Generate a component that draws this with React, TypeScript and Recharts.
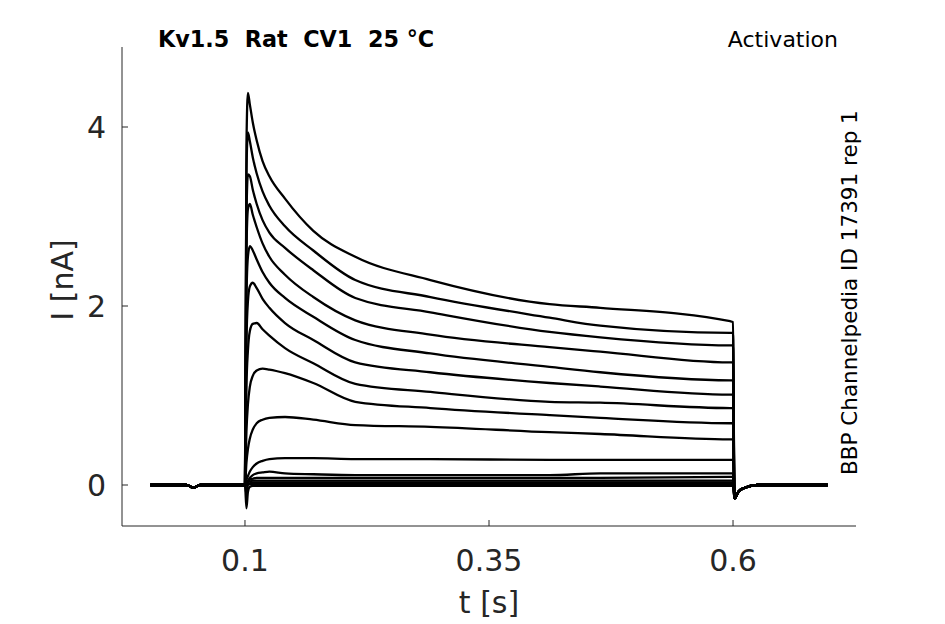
import React from "react";
import { LineChart, Line, XAxis, YAxis, Customized } from "recharts";

// time points (s)
const times = [
  0.003, 0.04, 0.047, 0.054, 0.099, 0.1, 0.1015, 0.103, 0.105, 0.108, 0.112, 0.118, 0.125,
  0.141, 0.17, 0.213, 0.29, 0.412, 0.464, 0.597, 0.6, 0.6015, 0.606, 0.612, 0.625, 0.697,
];

const pre = [0, 0, -0.03, 0, 0, 0];
const post = [-0.15, -0.07, -0.03, 0, 0];

// current traces (nA), one per voltage step, values read at the time points above
const trace1 = [...pre, 3.8, 4.38, 4.25, 4.05, 3.85, 3.62, 3.45, 3.2, 2.84, 2.55, 2.29, 2.02, 1.98, 1.83, 1.82, ...post];
const trace2 = [...pre, 3.5, 3.94, 3.84, 3.66, 3.48, 3.28, 3.12, 2.89, 2.62, 2.29, 2.1, 1.87, 1.78, 1.7, 1.7, ...post];
const trace3 = [...pre, 3.0, 3.47, 3.45, 3.3, 3.14, 2.96, 2.82, 2.65, 2.4, 2.09, 1.93, 1.71, 1.65, 1.56, 1.56, ...post];
const trace4 = [...pre, 2.6, 3.08, 3.14, 3.02, 2.88, 2.7, 2.55, 2.35, 2.1, 1.84, 1.68, 1.54, 1.49, 1.37, 1.37, ...post];
const trace5 = [...pre, 2.1, 2.55, 2.67, 2.62, 2.52, 2.38, 2.26, 2.09, 1.88, 1.62, 1.47, 1.32, 1.26, 1.17, 1.17, ...post];
const trace6 = [...pre, 1.6, 2.05, 2.22, 2.26, 2.2, 2.08, 1.98, 1.81, 1.62, 1.37, 1.26, 1.14, 1.1, 1.01, 1.01, ...post];
const trace7 = [...pre, 1.1, 1.5, 1.72, 1.8, 1.81, 1.74, 1.67, 1.53, 1.36, 1.13, 1.04, 0.93, 0.92, 0.86, 0.86, ...post];
const trace8 = [...pre, 0.6, 0.9, 1.1, 1.22, 1.28, 1.3, 1.29, 1.25, 1.14, 0.93, 0.86, 0.78, 0.75, 0.69, 0.69, ...post];
const trace9 = [...pre, 0.25, 0.4, 0.52, 0.62, 0.69, 0.73, 0.75, 0.76, 0.73, 0.67, 0.65, 0.59, 0.57, 0.51, 0.51, ...post];
const trace10 = [...pre, 0.06, 0.1, 0.15, 0.2, 0.24, 0.27, 0.29, 0.3, 0.3, 0.29, 0.29, 0.28, 0.28, 0.28, 0.28, ...post];
const trace11 = [...pre, 0.03, 0.05, 0.08, 0.11, 0.13, 0.14, 0.15, 0.13, 0.12, 0.11, 0.11, 0.11, 0.13, 0.13, 0.13, ...post];
const trace12 = [...pre, 0.02, 0.04, 0.06, 0.07, 0.08, 0.08, 0.08, 0.08, 0.08, 0.08, 0.08, 0.08, 0.08, 0.09, 0.09, ...post];
const trace13 = [...pre, 0.01, 0.03, 0.04, 0.05, 0.05, 0.05, 0.05, 0.05, 0.05, 0.05, 0.05, 0.05, 0.05, 0.05, 0.05, ...post];
const trace14 = [...pre, 0.0, 0.01, 0.02, 0.03, 0.03, 0.03, 0.03, 0.03, 0.03, 0.03, 0.03, 0.03, 0.03, 0.03, 0.03, ...post];
const trace15 = [...pre, -0.1, 0.0, 0.01, 0.01, 0.01, 0.01, 0.01, 0.01, 0.01, 0.01, 0.01, 0.01, 0.01, 0.01, 0.01, ...post];
const trace16 = [...pre, -0.26, -0.08, -0.02, -0.01, -0.01, -0.01, -0.01, -0.01, -0.01, -0.01, -0.01, -0.01, -0.01, -0.01, -0.01, ...post];

const traces = [
  trace1, trace2, trace3, trace4, trace5, trace6, trace7, trace8,
  trace9, trace10, trace11, trace12, trace13, trace14, trace15, trace16,
];

const xTicks = [0.1, 0.35, 0.6];
const yTicks = [0, 2, 4];
const xTickLabels = ["0.1", "0.35", "0.6"];

const data = times.map((t, i) => {
  const row: Record<string, number> = { t };
  traces.forEach((tr, k) => {
    row["s" + k] = tr[i];
  });
  return row;
});

const FONT = "DejaVu Sans";
const GRAY = "#262626";

const XTick = (props: any) => {
  const { x, y, payload } = props;
  const idx = xTicks.indexOf(payload.value);
  const label = idx >= 0 ? xTickLabels[idx] : String(payload.value);
  return (
    <g>
      <line x1={x} x2={x} y1={y} y2={y - 6} stroke={GRAY} strokeWidth={1} />
      <text x={x} y={y + 45} textAnchor="middle" fontFamily={FONT} fontSize={30} fill={GRAY}>
        {label}
      </text>
    </g>
  );
};

const YTick = (props: any) => {
  const { x, y, payload } = props;
  return (
    <g>
      <line x1={x} x2={x + 6} y1={y} y2={y} stroke={GRAY} strokeWidth={1} />
      <text x={x - 16} y={y + 11} textAnchor="end" fontFamily={FONT} fontSize={30} fill={GRAY}>
        {String(payload.value)}
      </text>
    </g>
  );
};

const Annotations = () => (
  <g>
    <text x={158} y={47} fontFamily={FONT} fontWeight="bold" fontSize={22.3} fill="#000" style={{ whiteSpace: "pre" }}>
      {"Kv1.5  Rat  CV1  25 °C"}
    </text>
    <text x={838} y={47} textAnchor="end" fontFamily={FONT} fontSize={22} fill="#000">
      Activation
    </text>
    <text
      x={857}
      y={475}
      transform="rotate(-90 857 475)"
      fontFamily={FONT}
      fontSize={21.5}
      fill="#000"
    >
      BBP Channelpedia ID 17391 rep 1
    </text>
    <text x={489} y={613} textAnchor="middle" fontFamily={FONT} fontSize={30} fill={GRAY}>
      t [s]
    </text>
    <text
      x={73}
      y={280}
      transform="rotate(-90 73 280)"
      textAnchor="middle"
      fontFamily={FONT}
      fontSize={30}
      fill={GRAY}
    >
      I [nA]
    </text>
  </g>
);

export default function App() {
  return (
    <div style={{ position: "absolute", left: 0, top: 0, background: "#fff" }}>
      <LineChart width={945} height={624} data={data} margin={{ top: 47, right: 89, bottom: 0, left: 0 }}>
        <XAxis
          type="number"
          dataKey="t"
          domain={[-0.026, 0.726]}
          ticks={xTicks}
          allowDataOverflow
          height={98}
          tickSize={0}
          tickMargin={0}
          tickLine={false}
          axisLine={{ stroke: GRAY, strokeWidth: 1 }}
          tick={<XTick />}
          interval={0}
        />
        <YAxis
          type="number"
          domain={[-0.458, 4.894]}
          ticks={yTicks}
          allowDataOverflow
          width={122}
          tickSize={0}
          tickMargin={0}
          tickLine={false}
          axisLine={{ stroke: GRAY, strokeWidth: 1 }}
          tick={<YTick />}
          interval={0}
        />
        {traces.map((_, k) => (
          <Line
            key={k}
            type="monotoneX"
            dataKey={"s" + k}
            stroke="#000"
            strokeWidth={2.3}
            dot={false}
            isAnimationActive={false}
          />
        ))}
        <Customized component={<Annotations />} />
      </LineChart>
    </div>
  );
}
